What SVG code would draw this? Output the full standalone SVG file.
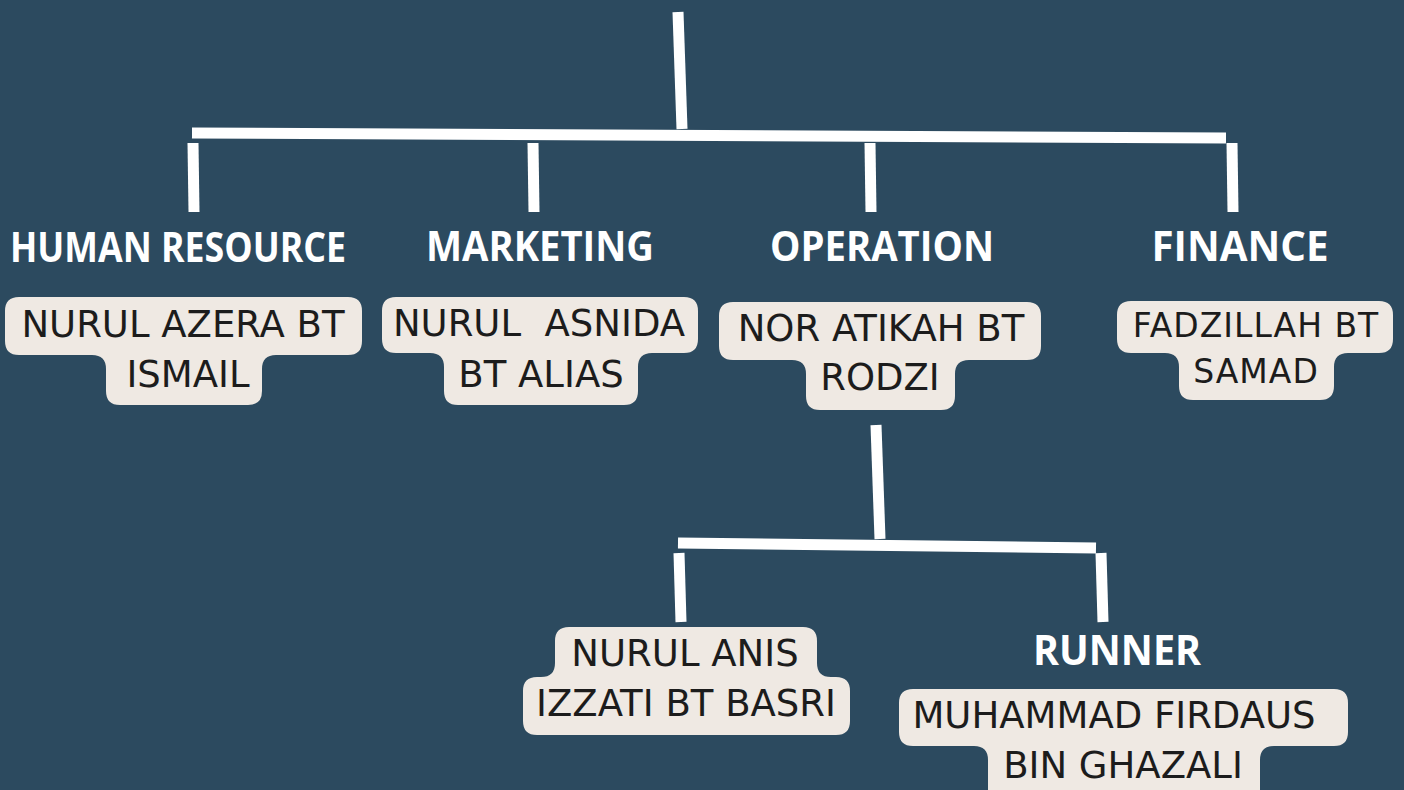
<svg xmlns="http://www.w3.org/2000/svg" width="1404" height="790" viewBox="0 0 1404 790">
<style>
.bg{fill:#2C4A5F}
.ln{stroke:#FFFFFF;stroke-width:11;stroke-linecap:butt;fill:none}
.box{fill:#EFE9E3}
.lbl{font-family:"Open Sans","Liberation Sans",sans-serif;font-weight:700;font-size:42px;fill:#FFFFFF;text-anchor:middle}
.nm{font-family:"DejaVu Sans","Liberation Sans",sans-serif;font-size:37px;fill:#1C1C1C;text-anchor:middle}
.sm{font-size:33px;letter-spacing:1px}
</style>
<rect class="bg" x="0" y="0" width="1404" height="790"/>
<g id="connectors">
<line class="ln" x1="678" y1="12" x2="682" y2="129"/>
<line class="ln" x1="192" y1="133" x2="1226" y2="138"/>
<line class="ln" x1="193" y1="143" x2="194" y2="212"/>
<line class="ln" x1="533" y1="143" x2="534" y2="212"/>
<line class="ln" x1="870" y1="143" x2="871" y2="212"/>
<line class="ln" x1="1232" y1="143" x2="1233" y2="212"/>
<line class="ln" x1="876" y1="425" x2="880" y2="539"/>
<line class="ln" x1="678" y1="543" x2="1096" y2="548"/>
<line class="ln" x1="679" y1="553" x2="681" y2="622"/>
<line class="ln" x1="1101" y1="553" x2="1103" y2="622"/>
</g>
<g id="hr">
<text class="lbl" x="178" y="262" textLength="336" lengthAdjust="spacingAndGlyphs">HUMAN RESOURCE</text>
<path class="box" d="M19,297 H348 Q362,297 362,311 V341 Q362,355 348,355 H276 Q262,355 262,369 V391 Q262,405 248,405 H120 Q106,405 106,391 V369 Q106,355 92,355 H19 Q5,355 5,341 V311 Q5,297 19,297 Z"/>
<text class="nm" x="183" y="337">NURUL AZERA BT</text>
<text class="nm" x="188" y="387">ISMAIL</text>
</g>
<g id="marketing">
<text class="lbl" x="540" y="261" textLength="228" lengthAdjust="spacingAndGlyphs">MARKETING</text>
<path class="box" d="M396,297 H684 Q698,297 698,311 V339 Q698,353 684,353 H652 Q638,353 638,367 V391 Q638,405 624,405 H458 Q444,405 444,391 V367 Q444,353 430,353 H396 Q382,353 382,339 V311 Q382,297 396,297 Z"/>
<text class="nm" x="539" y="336" xml:space="preserve">NURUL  ASNIDA</text>
<text class="nm" x="541" y="387">BT ALIAS</text>
</g>
<g id="operation">
<text class="lbl" x="882" y="261" textLength="224" lengthAdjust="spacingAndGlyphs">OPERATION</text>
<path class="box" d="M733,302 H1027 Q1041,302 1041,316 V346 Q1041,360 1027,360 H969 Q955,360 955,374 V396 Q955,410 941,410 H820 Q806,410 806,396 V374 Q806,360 792,360 H733 Q719,360 719,346 V316 Q719,302 733,302 Z"/>
<text class="nm" x="881" y="341">NOR ATIKAH BT</text>
<text class="nm" x="880" y="390">RODZI</text>
</g>
<g id="finance">
<text class="lbl" x="1240" y="261" textLength="177" lengthAdjust="spacingAndGlyphs">FINANCE</text>
<path class="box" d="M1131,301 H1379 Q1393,301 1393,315 V339 Q1393,353 1379,353 H1348 Q1334,353 1334,367 V386 Q1334,400 1320,400 H1193 Q1179,400 1179,386 V367 Q1179,353 1165,353 H1131 Q1117,353 1117,339 V315 Q1117,301 1131,301 Z"/>
<text class="nm sm" x="1256" y="337">FADZILLAH BT</text>
<text class="nm sm" x="1256" y="383">SAMAD</text>
</g>
<g id="nurul-anis">
<path class="box" d="M569,627 H803 Q817,627 817,641 V663 Q817,677 831,677 H836 Q850,677 850,691 V721 Q850,735 836,735 H537 Q523,735 523,721 V691 Q523,677 537,677 H541 Q555,677 555,663 V641 Q555,627 569,627 Z"/>
<text class="nm" x="685" y="666">NURUL ANIS</text>
<text class="nm" x="686" y="716">IZZATI BT BASRI</text>
</g>
<g id="runner">
<text class="lbl" x="1117" y="665" textLength="168" lengthAdjust="spacingAndGlyphs">RUNNER</text>
<path class="box" d="M913,689 H1334 Q1348,689 1348,703 V732 Q1348,746 1334,746 H1274 Q1260,746 1260,760 V800 H988 V760 Q988,746 974,746 H913 Q899,746 899,732 V703 Q899,689 913,689 Z"/>
<text class="nm" x="1114" y="728">MUHAMMAD FIRDAUS</text>
<text class="nm" x="1123" y="778">BIN GHAZALI</text>
</g>
</svg>
